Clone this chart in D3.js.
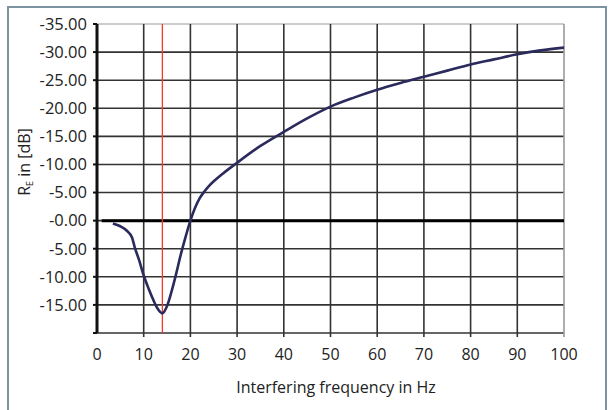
<!DOCTYPE html>
<html>
<head>
<meta charset="utf-8">
<style>
  body { margin: 0; background: #fff; }
  text { font-family: "Open Sans", "Noto Sans", sans-serif; fill: #222; }
</style>
</head>
<body>
<svg width="611" height="410"></svg>
<script src="https://d3js.org/d3.v7.min.js"></script>
<script>
// frequency in Hz and R_E (plotted upward, labels shown as in the source)
var freq = [3.4, 5, 6.4, 7.5, 8.1, 9, 9.9, 11, 12.1, 13, 14, 15, 16, 17, 17.8, 19, 20, 21, 22, 23, 24, 25, 27, 30, 35, 40, 45, 50, 55, 60, 65, 70, 75, 80, 85, 90, 95, 100];
var re   = [-0.5, -1, -1.8, -3, -4.8, -7, -9.5, -12, -14.2, -15.7, -16.5, -15.2, -12.5, -9.3, -6.5, -2.8, 0, 2.3, 4.0, 5.2, 6.2, 7.0, 8.4, 10.3, 13.3, 15.8, 18.2, 20.3, 21.9, 23.3, 24.5, 25.6, 26.7, 27.8, 28.7, 29.6, 30.3, 30.8];
var yTicks = [35, 30, 25, 20, 15, 10, 5, 0, -5, -10, -15];
var yTickLabels = ["-35.00", "-30.00", "-25.00", "-20.00", "-15.00", "-10.00", "-5.00", "-0.00", "-5.00", "-10.00", "-15.00"];
var xTicks = [0, 10, 20, 30, 40, 50, 60, 70, 80, 90, 100];
var markFreq = 14;

var svg = d3.select("svg");

// frame
svg.append("rect").attr("x", 8).attr("y", 7).attr("width", 598).attr("height", 410)
  .attr("fill", "none").attr("stroke", "#7b93a1").attr("stroke-width", 2);

var x = d3.scaleLinear().domain([0, 100]).range([97, 564]);
var y = d3.scaleLinear().domain([35, -20]).range([24, 333]);

var g = svg.append("g");

// horizontal grid
g.selectAll(".hg").data(yTicks.concat([-20])).enter().append("line")
  .attr("x1", x(0)).attr("x2", x(100))
  .attr("y1", function(d) { return y(d); }).attr("y2", function(d) { return y(d); })
  .attr("stroke", function(d) { return d == 35 ? "#bbb" : "#333"; })
  .attr("stroke-width", 1.6);

// vertical grid
g.selectAll(".vg").data(xTicks.slice(1)).enter().append("line")
  .attr("x1", function(d) { return x(d); }).attr("x2", function(d) { return x(d); })
  .attr("y1", y(35)).attr("y2", y(-20) + 4)
  .attr("stroke", function(d) { return d == 100 ? "#999" : "#333"; })
  .attr("stroke-width", 1.6);

// y axis
g.append("line").attr("x1", x(0)).attr("x2", x(0)).attr("y1", y(35)).attr("y2", y(-20))
  .attr("stroke", "#111").attr("stroke-width", 3);
g.selectAll(".yt").data(yTicks.concat([-20])).enter().append("line")
  .attr("x1", x(0) - 4).attr("x2", x(0))
  .attr("y1", function(d) { return y(d); }).attr("y2", function(d) { return y(d); })
  .attr("stroke", "#111").attr("stroke-width", 2);
g.selectAll(".yl").data(yTicks).enter().append("text")
  .attr("x", 87).attr("y", function(d) { return y(d); }).attr("dy", "0.35em")
  .attr("text-anchor", "end").attr("font-size", 16.5)
  .text(function(d, i) { return yTickLabels[i]; });

// x labels
g.selectAll(".xl").data(xTicks).enter().append("text")
  .attr("x", function(d) { return x(d); }).attr("y", 360)
  .attr("text-anchor", "middle").attr("font-size", 16)
  .text(function(d) { return d; });

// zero line
g.append("line").attr("x1", x(1)).attr("x2", x(100)).attr("y1", y(0)).attr("y2", y(0))
  .attr("stroke", "#000").attr("stroke-width", 3);

// marker line
g.append("line").attr("x1", x(markFreq)).attr("x2", x(markFreq)).attr("y1", y(35)).attr("y2", y(-20))
  .attr("stroke", "#f03a2a").attr("stroke-width", 1.3);

// curve
var line = d3.line().x(function(d, i) { return x(freq[i]); }).y(function(d) { return y(d); })
  .curve(d3.curveMonotoneX);
g.append("path").datum(re).attr("d", line)
  .attr("fill", "none").attr("stroke", "#2b2a5c").attr("stroke-width", 2.6);

// axis titles
svg.append("text").attr("x", 336).attr("y", 393).attr("text-anchor", "middle")
  .attr("font-size", 16).text("Interfering frequency in Hz");

var yt = svg.append("text").attr("transform", "translate(30,162) rotate(-90)")
  .attr("text-anchor", "middle").attr("font-size", 16);
yt.append("tspan").text("R");
yt.append("tspan").attr("font-size", 9).attr("dy", 3).text("E");
yt.append("tspan").attr("dy", -3).text(" in [dB]");
</script>
</body>
</html>
